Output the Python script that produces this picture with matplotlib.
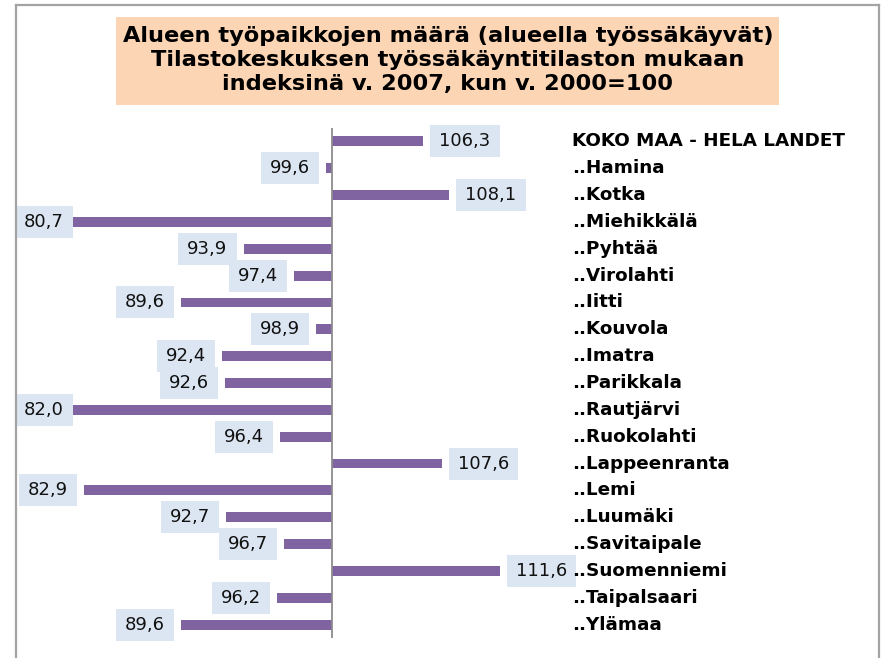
import matplotlib
matplotlib.use("Agg")
import matplotlib.pyplot as plt
from matplotlib.patches import Rectangle
from matplotlib.lines import Line2D
import matplotlib.transforms as mtransforms

categories = ["KOKO MAA - HELA LANDET", "..Hamina", "..Kotka", "..Miehikkälä", "..Pyhtää",
              "..Virolahti", "..Iitti", "..Kouvola", "..Imatra", "..Parikkala", "..Rautjärvi",
              "..Ruokolahti", "..Lappeenranta", "..Lemi", "..Luumäki", "..Savitaipale",
              "..Suomenniemi", "..Taipalsaari", "..Ylämaa"]
values = [106.3, 99.6, 108.1, 80.7, 93.9, 97.4, 89.6, 98.9, 92.4, 92.6, 82.0,
          96.4, 107.6, 82.9, 92.7, 96.7, 111.6, 96.2, 89.6]
title_lines = ["Alueen työpaikkojen määrä (alueella työssäkäyvät)",
               "Tilastokeskuksen työssäkäyntitilaston mukaan",
               "indeksinä v. 2007, kun v. 2000=100"]
base = 100.0

W, H = 883, 658
fig = plt.figure(figsize=(W / 100, H / 100), dpi=100)
fig.patch.set_facecolor("white")

def fx(px):
    return px / W

def fy(py):
    return 1 - py / H

# frame
frame_col = "#A3A3A3"
fig.add_artist(Line2D([fx(16), fx(16)], [fy(5), 0], color=frame_col, lw=1.6))
fig.add_artist(Line2D([fx(16), fx(879)], [fy(5), fy(5)], color=frame_col, lw=1.6))
fig.add_artist(Line2D([fx(879), fx(879)], [fy(5), 0], color=frame_col, lw=1.6))

# title box
fig.add_artist(Rectangle((fx(116), fy(105)), fx(779) - fx(116), fy(17) - fy(105),
                         transform=fig.transFigure, facecolor="#FCD5B5", edgecolor="none"))
for line, yb in zip(title_lines, [42, 66, 90]):
    fig.text(fx(448), fy(yb), line, ha="center", va="baseline",
             fontsize=16.2, fontweight="bold", family="DejaVu Sans", color="black")

# axes
ax_left, ax_right, ax_top, ax_bot = 73, 560, 128, 638
ax = fig.add_axes([fx(ax_left), fy(ax_bot), fx(ax_right) - fx(ax_left), fy(ax_top) - fy(ax_bot)])
ax.set_facecolor("none")
xmin = base - (332 - ax_left) / 14.5
xmax = base + (ax_right - 332) / 14.5
ax.set_xlim(xmin, xmax)
n = len(categories)
ax.set_ylim(n - 0.5, -0.5)
for s in ax.spines.values():
    s.set_visible(False)
ax.set_xticks([])
ax.set_yticks([])

ypos = list(range(n))
ax.barh(ypos, [v - base for v in values], left=base, height=0.37, color="#8064A2")
ax.axvline(base, color="#8C8C8C", lw=1.3)

# value labels
texts = []
for i, v in enumerate(values):
    lab = f"{v:.1f}".replace(".", ",")
    if v >= base:
        xy, off, ha = (v, i), 16, "left"
    elif v < xmin:
        xy, off, ha = (xmin, i), -9, "right"
    else:
        xy, off, ha = (v, i), -16, "right"
    t = ax.annotate(lab, xy=xy, xytext=(off, 0), textcoords="offset pixels",
                    ha=ha, va="center", fontsize=13, family="DejaVu Sans", color="#111111",
                    annotation_clip=False, zorder=6)
    texts.append(t)

fig.canvas.draw()
renderer = fig.canvas.get_renderer()
for t in texts:
    bb = t.get_window_extent(renderer)
    cx = (bb.x0 + bb.x1) / 2
    cy = (bb.y0 + bb.y1) / 2
    w = bb.width + 18
    h = 32
    rect = Rectangle((cx - w / 2, cy - h / 2), w, h, transform=mtransforms.IdentityTransform(),
                     facecolor="#DCE6F2", edgecolor="none", zorder=4, clip_on=False)
    ax.add_patch(rect)

# category labels
trans = mtransforms.blended_transform_factory(fig.transFigure, ax.transData)
for i, c in enumerate(categories):
    ax.text(fx(572), i, c, transform=trans, ha="left", va="center", fontsize=13.2,
            fontweight="bold", family="DejaVu Sans", color="black", clip_on=False, zorder=7)

fig.savefig("out.png", dpi=100)
